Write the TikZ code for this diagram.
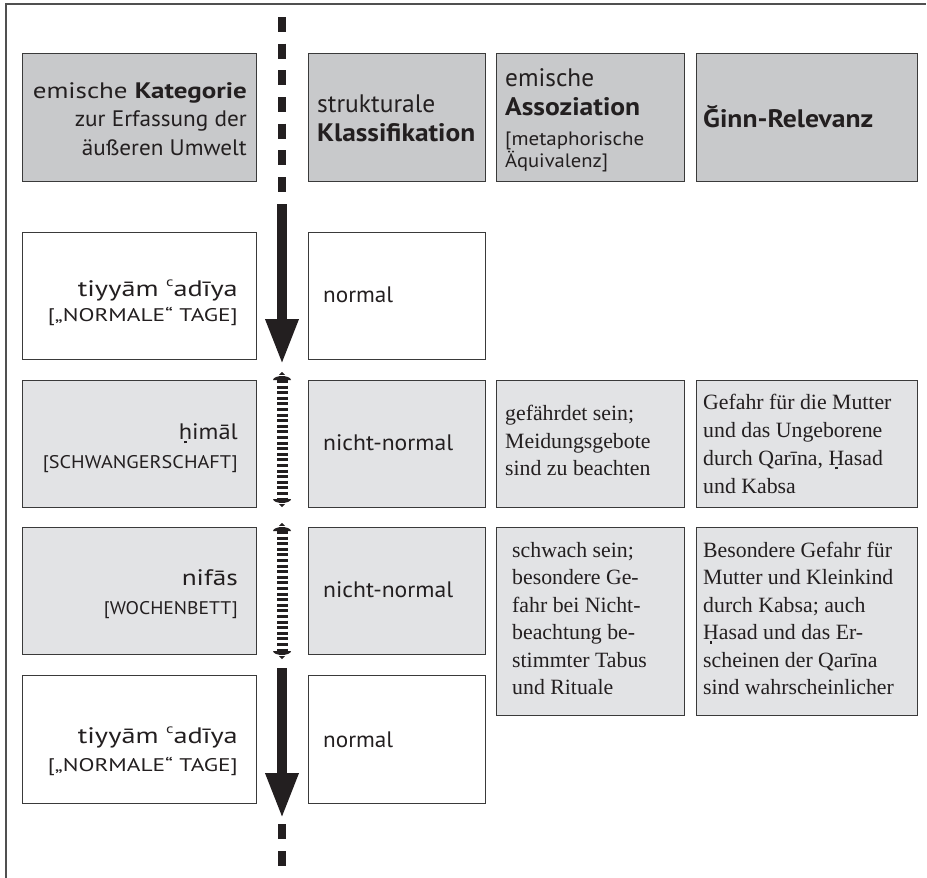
\documentclass[tikz,border=0pt]{standalone}
\usepackage{fontspec}
\usepackage{graphicx}
\setmainfont{PT Sans}
\newfontfamily\serifface{Liberation Serif}
\usetikzlibrary{arrows.meta}
\definecolor{hdr}{HTML}{C8C9CB}
\definecolor{bodygray}{HTML}{E2E3E5}
\definecolor{ink}{HTML}{231F20}
\definecolor{edge}{HTML}{3A3A3A}
\definecolor{framec}{HTML}{505050}
% dot below drawn as a tiny rule (not a separate glyph)
\newcommand\dotunder[1]{\ooalign{#1\cr\hidewidth\raisebox{-0.2em}{\rule{0.11em}{0.11em}}\hidewidth\cr}}
\newcommand\ayn{{\raisebox{0.42em}{\fontsize{13}{13}\selectfont c}}}
\newcommand\fw[2]{\resizebox{#1pt}{\height}{#2}}
\tikzset{
  box/.style={draw=edge, line width=1.2pt, inner sep=0pt, anchor=north west, rectangle},
  hbox/.style={box, fill=hdr},
  gbox/.style={box, fill=bodygray},
  wbox/.style={box, fill=white},
  txt/.style={inner sep=0pt, text=ink},
  ha/.style={txt, font=\fontsize{22.4}{26}\selectfont, anchor=base east},
  hb/.style={txt, font=\fontsize{25.3}{29}\selectfont, anchor=base west},
  hs/.style={txt, font=\fontsize{19.4}{22}\selectfont, anchor=base west},
  rn/.style={txt, font=\fontsize{22.4}{26}\selectfont, anchor=base east},
  rb/.style={txt, font=\fontsize{18.3}{21}\selectfont, anchor=base east},
  cl/.style={txt, font=\fontsize{22.4}{26}\selectfont, anchor=base west},
  sf/.style={txt, font=\serifface\fontsize{21.8}{26}\selectfont, anchor=base west},
  dashline/.style={draw=ink, line width=8pt, dash pattern=on 15pt off 11.67pt},
  bigarrow/.style={draw=ink, line width=9.5pt, -{Triangle[width=31pt,length=45pt]}, color=ink},
  stripes/.style={draw=ink, line width=11pt, dash pattern=on 3pt off 2.6pt},
  capdown/.pic={
    \fill[ink] (-9,0) -- (9,0) .. controls (9,2.5) and (4,4) .. (0,4) .. controls (-4,4) and (-9,2.5) .. (-9,0) -- cycle;
    \fill[ink] (-3,5.2) -- (3,5.2) -- (0,8) -- cycle;
  }
}
\begin{document}
\begin{tikzpicture}[x=1pt,y=-1pt]
\useasboundingbox (0,0) rectangle (927,878);
% frame
\coordinate (fb) at (6,878);
\coordinate (fc) at (6,4);
\coordinate (fr) at (926,4);
\draw[framec, line width=1.3pt] (fb) -- (fc) -- (fr);

% header boxes
\node[hbox, minimum width=234pt, minimum height=128pt] (h1) at (22,53) {};
\node[hbox, minimum width=177pt, minimum height=128pt] (h2) at (308,53) {};
\node[hbox, minimum width=188pt, minimum height=128pt] (h3) at (496,53) {};
\node[hbox, minimum width=221pt, minimum height=128pt] (h4) at (696,53) {};

% row 1
\node[wbox, minimum width=234pt, minimum height=127pt] (r1a) at (22,232) {};
\node[wbox, minimum width=177pt, minimum height=127pt] (r1b) at (308,232) {};
% row 2
\node[gbox, minimum width=234pt, minimum height=127pt] (r2a) at (22,380) {};
\node[gbox, minimum width=177pt, minimum height=127pt] (r2b) at (308,380) {};
\node[gbox, minimum width=188pt, minimum height=127pt] (r2c) at (496,380) {};
\node[gbox, minimum width=221pt, minimum height=127pt] (r2d) at (696,380) {};
% row 3
\node[gbox, minimum width=234pt, minimum height=127pt] (r3a) at (22,527) {};
\node[gbox, minimum width=177pt, minimum height=127pt] (r3b) at (308,527) {};
\node[gbox, minimum width=188pt, minimum height=188pt] (r3c) at (496,527) {};
\node[gbox, minimum width=221pt, minimum height=188pt] (r3d) at (696,527) {};
% row 4
\node[wbox, minimum width=234pt, minimum height=128pt] (r4a) at (22,675) {};
\node[wbox, minimum width=177pt, minimum height=128pt] (r4b) at (308,675) {};

% header texts
\node[ha] (h1t1) at (247,98) {\fw{214}{emische \textbf{Kategorie}}};
\node[ha] (h1t2) at (247,126.5) {\fw{172}{zur Erfassung der}};
\node[ha] (h1t3) at (247,155) {\fw{165}{äußeren Umwelt}};
\node[hb] (h2t1) at (317,112.5) {\fw{118}{strukturale}};
\node[hb] (h2t2) at (317,141.5) {\fw{158}{\textbf{Klassifikation}}};
\node[hb] (h3t1) at (505,86) {emische};
\node[hb] (h3t2) at (505,115) {\fw{135}{\textbf{Assoziation}}};
\node[hs] (h3t3) at (505,145) {\fw{139}{[metaphorische}};
\node[hs] (h3t4) at (505,167) {\fw{103}{Äquivalenz]}};
\node[hb] (h4t1) at (703,127) {\fw{170}{\textbf{Ğinn-Relevanz}}};

% row label texts
\node[rn] (r1n) at (238,296) {\fw{160}{tiyyām \ayn adīya}};
\node[rb] (r1s) at (238,321) {\fw{190}{[„NORMALE“ TAGE]}};
\node[rn] (r2n) at (238,439) {\fw{59}{\dotunder{h}imāl}};
\node[rb] (r2s) at (238,468) {\fw{195}{[SCHWANGERSCHAFT]}};
\node[rn] (r3n) at (238,585) {\fw{56}{nifās}};
\node[rb] (r3s) at (238,614) {\fw{134}{[WOCHENBETT]}};
\node[rn] (r4n) at (238,743) {\fw{160}{tiyyām \ayn adīya}};
\node[rb] (r4s) at (238,771) {\fw{190}{[„NORMALE“ TAGE]}};

% classification
\node[cl] (r1k) at (323,302) {\fw{70}{normal}};
\node[cl] (r2k) at (323,450) {\fw{130}{nicht-normal}};
\node[cl] (r3k) at (323,597) {\fw{130}{nicht-normal}};
\node[cl] (r4k) at (323,747) {\fw{70}{normal}};

% association / relevance texts (serif)
\node[sf] (r2c1) at (505,420.5) {gefährdet sein;};
\node[sf] (r2c2) at (505,448) {Meidungsgebote};
\node[sf] (r2c3) at (505,475.5) {sind zu beachten};
\node[sf] (r2d1) at (703,409) {Gefahr für die Mutter};
\node[sf] (r2d2) at (703,437) {und das Ungeborene};
\node[sf] (r2d3) at (703,465) {durch Qarīna, \dotunder{H}asad};
\node[sf] (r2d4) at (703,493) {und Kabsa};

\node[sf] (r3c1) at (512,557) {schwach sein;};
\node[sf] (r3c2) at (512,584.5) {besondere Ge-};
\node[sf] (r3c3) at (512,612) {fahr bei Nicht-};
\node[sf] (r3c4) at (512,639.5) {beachtung be-};
\node[sf] (r3c5) at (512,667) {stimmter Tabus};
\node[sf] (r3c6) at (512,694.5) {und Rituale};
\node[sf] (r3d1) at (703,557) {Besondere Gefahr für};
\node[sf] (r3d2) at (703,584.5) {Mutter und Kleinkind};
\node[sf] (r3d3) at (703,612) {durch Kabsa; auch};
\node[sf] (r3d4) at (703,639.5) {\dotunder{H}asad und das Er-};
\node[sf] (r3d5) at (703,667) {scheinen der Qarīna};
\node[sf] (r3d6) at (703,694.5) {sind wahrscheinlicher};

% timeline arrow
\coordinate (t0) at (282,17);
\coordinate (t1) at (282,192);
\draw[dashline] (t0) -- (t1);
\coordinate (a1s) at (282,204);
\coordinate (a1e) at (282,364);
\draw[bigarrow] (a1s) -- (a1e);

\coordinate (s1a) at (282,380);
\coordinate (s1b) at (282,499);
\draw[stripes] (s1a) -- (s1b);
\pic at (s1b) {capdown};
\pic[yscale=-1] at (s1a) {capdown};

\coordinate (s2a) at (282,531);
\coordinate (s2b) at (282,651);
\draw[stripes] (s2a) -- (s2b);
\pic at (s2b) {capdown};
\pic[yscale=-1] at (s2a) {capdown};

\coordinate (a2s) at (282,668);
\coordinate (a2e) at (282,818);
\draw[bigarrow] (a2s) -- (a2e);

\coordinate (t2) at (282,824);
\coordinate (t3) at (282,866);
\draw[dashline, dash pattern=on 15pt off 12pt] (t2) -- (t3);
\end{tikzpicture}
\end{document}
